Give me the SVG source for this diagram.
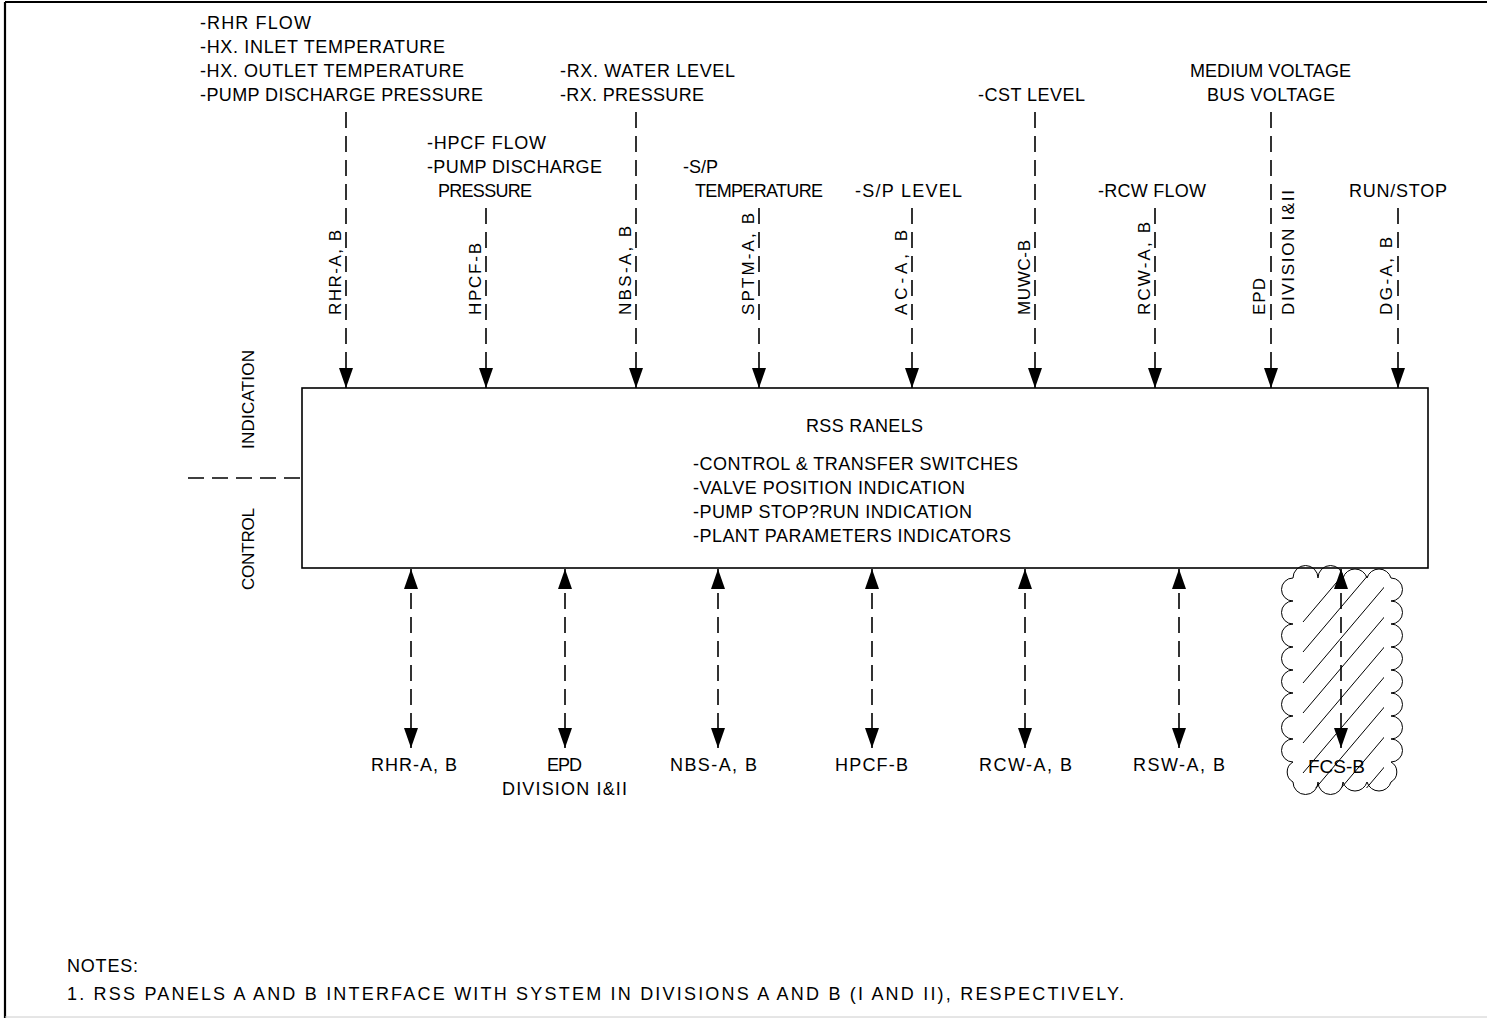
<svg xmlns="http://www.w3.org/2000/svg" width="1487" height="1018" viewBox="0 0 1487 1018">
<style>
text{font-family:"Liberation Sans",Arial,sans-serif;font-size:18px;fill:#000}
.r{font-size:17px}
.ln{stroke:#000;stroke-width:1.6;fill:none}
.d{stroke:#000;stroke-width:1.6;fill:none;stroke-dasharray:16 8}
.h{stroke:#000;stroke-width:1;fill:none}
</style>
<defs>
<marker id="ah" viewBox="0 0 20 14" refX="20" refY="7" markerWidth="20" markerHeight="14" markerUnits="userSpaceOnUse" orient="auto-start-reverse"><path d="M0,0 L20,7 L0,14 z" fill="#000"/></marker>
<clipPath id="hc"><rect x="1300" y="576" width="84" height="212"/></clipPath>
</defs>
<rect width="1487" height="1018" fill="#fff"/>
<g id="frame">
<line x1="5" y1="2" x2="1487" y2="2" stroke="#000" stroke-width="2.2"/>
<line x1="5" y1="2" x2="5" y2="1018" stroke="#000" stroke-width="2.2"/>
<line x1="5" y1="1017" x2="1487" y2="1017" stroke="#ccc" stroke-width="1"/>
</g>
<g id="connectors">
<line class="d" x1="346" y1="112" x2="346" y2="388" marker-end="url(#ah)"/>
<line class="d" x1="486" y1="208" x2="486" y2="388" marker-end="url(#ah)"/>
<line class="d" x1="636" y1="112" x2="636" y2="388" marker-end="url(#ah)"/>
<line class="d" x1="759" y1="208" x2="759" y2="388" marker-end="url(#ah)"/>
<line class="d" x1="912" y1="208" x2="912" y2="388" marker-end="url(#ah)"/>
<line class="d" x1="1035" y1="112" x2="1035" y2="388" marker-end="url(#ah)"/>
<line class="d" x1="1155" y1="208" x2="1155" y2="388" marker-end="url(#ah)"/>
<line class="d" x1="1271" y1="112" x2="1271" y2="388" marker-end="url(#ah)"/>
<line class="d" x1="1398" y1="208" x2="1398" y2="388" marker-end="url(#ah)"/>
<line class="d" x1="411" y1="569" x2="411" y2="748" marker-start="url(#ah)" marker-end="url(#ah)"/>
<line class="d" x1="565" y1="569" x2="565" y2="748" marker-start="url(#ah)" marker-end="url(#ah)"/>
<line class="d" x1="718" y1="569" x2="718" y2="748" marker-start="url(#ah)" marker-end="url(#ah)"/>
<line class="d" x1="872" y1="569" x2="872" y2="748" marker-start="url(#ah)" marker-end="url(#ah)"/>
<line class="d" x1="1025" y1="569" x2="1025" y2="748" marker-start="url(#ah)" marker-end="url(#ah)"/>
<line class="d" x1="1179" y1="569" x2="1179" y2="748" marker-start="url(#ah)" marker-end="url(#ah)"/>
<line class="d" x1="1341" y1="569" x2="1341" y2="748" marker-start="url(#ah)" marker-end="url(#ah)"/>
<line class="d" x1="188" y1="478" x2="302" y2="478" stroke-dasharray="14 10"/>
</g>
<g id="side-labels">
<text class="r" transform="translate(254,449) rotate(-90)" textLength="99" lengthAdjust="spacing">INDICATION</text>
<text class="r" transform="translate(254,590) rotate(-90)" textLength="82" lengthAdjust="spacing">CONTROL</text>
</g>
<g id="rss-panels">
<rect x="302" y="388" width="1126" height="180" class="ln"/>
<text x="806" y="432" textLength="117" lengthAdjust="spacing">RSS RANELS</text>
<text x="693" y="470" textLength="325" lengthAdjust="spacing">-CONTROL &amp; TRANSFER SWITCHES</text>
<text x="693" y="494" textLength="272" lengthAdjust="spacing">-VALVE POSITION INDICATION</text>
<text x="693" y="518" textLength="279" lengthAdjust="spacing">-PUMP STOP?RUN INDICATION</text>
<text x="693" y="542" textLength="318" lengthAdjust="spacing">-PLANT PARAMETERS INDICATORS</text>
</g>
<g id="rhr-in">
<text x="200" y="29" textLength="111" lengthAdjust="spacing">-RHR FLOW</text>
<text x="200" y="53" textLength="245" lengthAdjust="spacing">-HX. INLET TEMPERATURE</text>
<text x="200" y="77" textLength="264" lengthAdjust="spacing">-HX. OUTLET TEMPERATURE</text>
<text x="200" y="101" textLength="283" lengthAdjust="spacing">-PUMP DISCHARGE PRESSURE</text>
<text class="r" transform="translate(341,315) rotate(-90)" textLength="85" lengthAdjust="spacing">RHR-A, B</text>
</g>
<g id="hpcf-in">
<text x="427" y="149" textLength="119" lengthAdjust="spacing">-HPCF FLOW</text>
<text x="427" y="173" textLength="175" lengthAdjust="spacing">-PUMP DISCHARGE</text>
<text x="438" y="197" textLength="94" lengthAdjust="spacing">PRESSURE</text>
<text class="r" transform="translate(481,315) rotate(-90)" textLength="72" lengthAdjust="spacing">HPCF-B</text>
</g>
<g id="nbs-in">
<text x="560" y="77" textLength="175" lengthAdjust="spacing">-RX. WATER LEVEL</text>
<text x="560" y="101" textLength="144" lengthAdjust="spacing">-RX. PRESSURE</text>
<text class="r" transform="translate(631,315) rotate(-90)" textLength="89" lengthAdjust="spacing">NBS-A, B</text>
</g>
<g id="sptm-in">
<text x="683" y="173">-S/P</text>
<text x="695" y="197" textLength="128" lengthAdjust="spacing">TEMPERATURE</text>
<text class="r" transform="translate(754,315) rotate(-90)" textLength="102" lengthAdjust="spacing">SPTM-A, B</text>
</g>
<g id="ac-in">
<text x="855" y="197" textLength="107" lengthAdjust="spacing">-S/P LEVEL</text>
<text class="r" transform="translate(907,315) rotate(-90)" textLength="85" lengthAdjust="spacing">AC-A, B</text>
</g>
<g id="muwc-in">
<text x="978" y="101" textLength="107" lengthAdjust="spacing">-CST LEVEL</text>
<text class="r" transform="translate(1030,315) rotate(-90)" textLength="75" lengthAdjust="spacing">MUWC-B</text>
</g>
<g id="rcw-in">
<text x="1098" y="197" textLength="108" lengthAdjust="spacing">-RCW FLOW</text>
<text class="r" transform="translate(1150,315) rotate(-90)" textLength="93" lengthAdjust="spacing">RCW-A, B</text>
</g>
<g id="epd-in">
<text x="1190" y="77" textLength="161" lengthAdjust="spacing">MEDIUM VOLTAGE</text>
<text x="1207" y="101" textLength="128" lengthAdjust="spacing">BUS VOLTAGE</text>
<text class="r" transform="translate(1265,315) rotate(-90)" textLength="37" lengthAdjust="spacing">EPD</text>
<text class="r" transform="translate(1294,315) rotate(-90)" textLength="125" lengthAdjust="spacing">DIVISION I&amp;II</text>
</g>
<g id="dg-in">
<text x="1349" y="197" textLength="98" lengthAdjust="spacing">RUN/STOP</text>
<text class="r" transform="translate(1392,315) rotate(-90)" textLength="78" lengthAdjust="spacing">DG-A, B</text>
</g>
<g id="rhr-out"><text x="371" y="771" textLength="86" lengthAdjust="spacing">RHR-A, B</text></g>
<g id="epd-out">
<text x="547" y="771" textLength="35" lengthAdjust="spacing">EPD</text>
<text x="502" y="795" textLength="125" lengthAdjust="spacing">DIVISION I&amp;II</text>
</g>
<g id="nbs-out"><text x="670" y="771" textLength="87" lengthAdjust="spacing">NBS-A, B</text></g>
<g id="hpcf-out"><text x="835" y="771" textLength="73" lengthAdjust="spacing">HPCF-B</text></g>
<g id="rcw-out"><text x="979" y="771" textLength="93" lengthAdjust="spacing">RCW-A, B</text></g>
<g id="rsw-out"><text x="1133" y="771" textLength="92" lengthAdjust="spacing">RSW-A, B</text></g>
<g id="fcs-out">
<path class="h" d="M1293,578 a12.5,12.5 0 0 1 25,0 a12.5,12.5 0 0 1 25,0 a12.5,12.5 0 0 1 24,0 a12.5,12.5 0 0 1 24,0
 a11.5,11.5 0 0 1 0,23 a11.5,11.5 0 0 1 0,23 a11.5,11.5 0 0 1 0,23 a11.5,11.5 0 0 1 0,23 a11.5,11.5 0 0 1 0,23 a11.5,11.5 0 0 1 0,23 a11.5,11.5 0 0 1 0,23 a11.5,11.5 0 0 1 0,23 a11.5,11.5 0 0 1 0,20
 a12.5,12.5 0 0 1 -24,0 a12.5,12.5 0 0 1 -24,0 a12.5,12.5 0 0 1 -25,0 a12.5,12.5 0 0 1 -25,0
 a11.5,11.5 0 0 1 0,-20 a11.5,11.5 0 0 1 0,-23 a11.5,11.5 0 0 1 0,-23 a11.5,11.5 0 0 1 0,-23 a11.5,11.5 0 0 1 0,-23 a11.5,11.5 0 0 1 0,-23 a11.5,11.5 0 0 1 0,-23 a11.5,11.5 0 0 1 0,-23 a11.5,11.5 0 0 1 0,-23 z"/>
<g clip-path="url(#hc)" class="h">
<line x1="1303" y1="622" x2="1403" y2="504"/>
<line x1="1303" y1="652" x2="1403" y2="534"/>
<line x1="1303" y1="683" x2="1403" y2="565"/>
<line x1="1303" y1="713" x2="1403" y2="595"/>
<line x1="1303" y1="743" x2="1403" y2="625"/>
<line x1="1303" y1="773" x2="1403" y2="655"/>
<line x1="1303" y1="803" x2="1403" y2="685"/>
<line x1="1303" y1="833" x2="1403" y2="715"/>
<line x1="1303" y1="863" x2="1403" y2="745"/>
</g>
<text x="1308" y="773" style="font-family:Arial,'Liberation Sans',sans-serif;font-size:19px">FCS-B</text>
</g>
<g id="notes">
<text x="67" y="972" textLength="71" lengthAdjust="spacing">NOTES:</text>
<text x="67" y="1000" textLength="1057" lengthAdjust="spacing">1. RSS PANELS A AND B INTERFACE WITH SYSTEM IN DIVISIONS A AND B (I AND II), RESPECTIVELY.</text>
</g>
</svg>
